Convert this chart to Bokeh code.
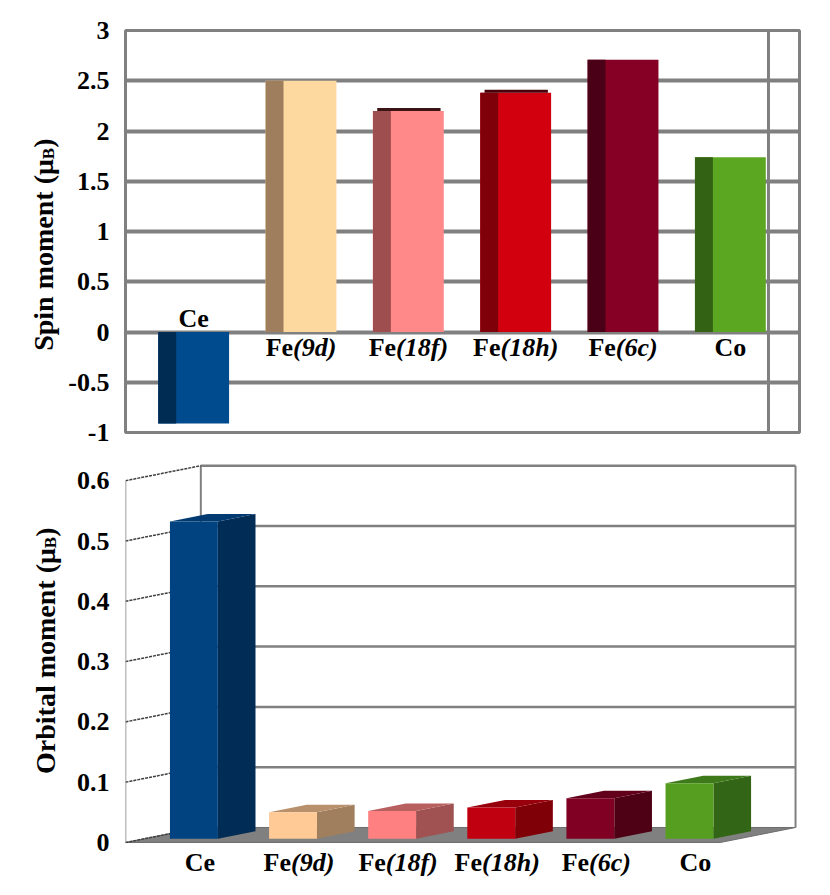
import numpy as np
from bokeh.plotting import figure
from bokeh.models import FixedTicker, Span
from bokeh.layouts import column, row
from bokeh.core.properties import value
from bokeh.embed import file_html
from bokeh.resources import INLINE

# ---------------- data ----------------
sites = ["Ce", "Fe(9d)", "Fe(18f)", "Fe(18h)", "Fe(6c)", "Co"]
label_main = ["Ce", "Fe", "Fe", "Fe", "Fe", "Co"]
label_ital = ["", "(9d)", "(18f)", "(18h)", "(6c)", ""]
spin = [-0.91, 2.50, 2.20, 2.38, 2.71, 1.74]
orbital = [0.526, 0.044, 0.046, 0.052, 0.067, 0.092]

spin_ticks = [-1, -0.5, 0, 0.5, 1, 1.5, 2, 2.5, 3]
spin_tick_labels = ["-1", "-0.5", "0", "0.5", "1", "1.5", "2", "2.5", "3"]
orb_ticks = [0, 0.1, 0.2, 0.3, 0.4, 0.5, 0.6]
orb_tick_labels = ["0", "0.1", "0.2", "0.3", "0.4", "0.5", "0.6"]

spin_title = "Spin moment (\u03bc"
orb_title = "Orbital moment (\u03bc"
title_sub = "B"
title_end = ")"

spin_face = ["#004B8D", "#FDD9A0", "#FF8888", "#D2000F", "#860025", "#5BA722"]
spin_side = ["#002B52", "#9E7E5C", "#9E4E4E", "#80000A", "#4A0016", "#346214"]
spin_cap = [None, None, "#3B1515", "#4A0008", None, None]   # visible dark top faces
orb_face = ["#004380", "#FFCA95", "#FF8080", "#C00010", "#7F0022", "#559E20"]
orb_side = ["#002C55", "#A07F5E", "#A05252", "#800008", "#4E0015", "#336517"]
orb_top = ["#003A70", "#B8916C", "#B85F5F", "#98000C", "#62001B", "#3F7A1A"]

FONT = "Liberation Serif"
GRID = "#808080"

# Times/Liberation Serif metrics (per 1000 em) for placing mixed-style text
BOLD_W = {"C": 722, "e": 444, "o": 500, "F": 611, "S": 556, "p": 556, "i": 278,
          "n": 556, " ": 250, "m": 833, "t": 333, "(": 333, ")": 333,
          "\u03bc": 556, "O": 778, "r": 444, "b": 556, "a": 500, "l": 278, "B": 667}
BI_W = {"(": 333, ")": 333, "1": 500, "6": 500, "8": 500, "9": 500,
        "d": 500, "f": 333, "h": 556, "c": 444}


def tw(s, table, size):
    return sum(table[c] for c in s) * size / 1000.0


LBL_SIZE = 26
idx = np.arange(len(sites), dtype=float)
w_main = np.array([tw(s, BOLD_W, LBL_SIZE) for s in label_main])
w_ital = np.array([tw(s, BI_W, LBL_SIZE) for s in label_ital])
split_off = -(w_main + w_ital) / 2.0 + w_main


def add_labels(p, xs, ys):
    p.text(x=xs, y=ys, text=label_main, x_offset=split_off,
           text_align="right", text_baseline="middle",
           text_font=value(FONT), text_font_style="bold",
           text_font_size=f"{LBL_SIZE}px", text_color="black")
    p.text(x=xs, y=ys, text=label_ital, x_offset=split_off,
           text_align="left", text_baseline="middle",
           text_font=value(FONT), text_font_style="bold italic",
           text_font_size=f"{LBL_SIZE}px", text_color="black")


def style_yaxis(p, ticks, labels):
    p.yaxis.ticker = FixedTicker(ticks=ticks)
    p.yaxis.major_label_overrides = {t: l for t, l in zip(ticks, labels)}
    p.yaxis.axis_line_color = None
    p.yaxis.major_tick_line_color = None
    p.yaxis.minor_tick_line_color = None
    p.yaxis.major_tick_out = 0
    p.yaxis.major_tick_in = 0
    p.yaxis.major_label_standoff = 16
    p.yaxis.major_label_text_font = FONT
    p.yaxis.major_label_text_font_style = "bold"
    p.yaxis.major_label_text_font_size = "26px"
    p.yaxis.major_label_text_color = "black"


TOTAL_W = 812
TITLE_W = 62
TOP_H = 455
BOT_H = 435
TOTAL_H = TOP_H + BOT_H

# ---------------- axis-title strip (left) ----------------
pt = figure(width=TITLE_W, height=TOTAL_H, x_range=(0, TITLE_W), y_range=(0, TOTAL_H),
            output_backend="svg", toolbar_location=None,
            min_border_left=0, min_border_right=0, min_border_top=0, min_border_bottom=0)
pt.axis.visible = False
pt.grid.visible = False
pt.outline_line_color = None
pt.border_fill_color = "white"
pt.background_fill_color = "white"


def add_title(main, x_base, y_end, size=28, sub=17):
    # anchored at the top end of the (rotated) title, pieces right-aligned
    wE = tw(title_end, BOLD_W, size)
    wB = tw(title_sub, BOLD_W, sub)
    kw = dict(angle=np.pi / 2, text_font=value(FONT), text_font_style="bold",
              text_color="black", text_align="right", text_baseline="alphabetic")
    pt.text(x=[x_base], y=[y_end], text=[title_end], text_font_size=f"{size}px", **kw)
    pt.text(x=[x_base + 5], y=[y_end - wE], text=[title_sub], text_font_size=f"{sub}px", **kw)
    pt.text(x=[x_base], y=[y_end - wE - wB], text=[main], text_font_size=f"{size}px", **kw)


# positions in page pixels (y measured from the page bottom)
add_title(spin_title, 43, TOTAL_H - 138)
add_title(orb_title, 45, TOTAL_H - 527)

# ---------------- top: spin moment ----------------
W = TOTAL_W - TITLE_W
p1 = figure(width=W, height=TOP_H, x_range=(-0.635, 5.644), y_range=(-1, 3),
            output_backend="svg", toolbar_location=None,
            min_border_left=124 - TITLE_W, min_border_right=TOTAL_W - 799,
            min_border_top=30, min_border_bottom=TOP_H - 432)
p1.xaxis.visible = False
p1.xgrid.visible = False
p1.ygrid.ticker = FixedTicker(ticks=spin_ticks)
p1.ygrid.grid_line_color = GRID
p1.ygrid.grid_line_width = 4
p1.outline_line_color = GRID
p1.outline_line_width = 3
p1.background_fill_color = "white"
p1.border_fill_color = "white"
style_yaxis(p1, spin_ticks, spin_tick_labels)

p1.add_layout(Span(location=5.355, dimension="height", line_color=GRID, line_width=3))

BW1, STRIP, CAP = 0.66, 0.167, 0.03
spin_arr = np.array(spin)
p1.quad(left=idx - BW1 / 2, right=idx + BW1 / 2, bottom=0, top=spin_arr,
        fill_color=spin_face, line_color=None)
p1.quad(left=idx - BW1 / 2, right=idx - BW1 / 2 + STRIP, bottom=0, top=spin_arr,
        fill_color=spin_side, line_color=None)
has_cap = np.array([c is not None for c in spin_cap])
p1.quad(left=(idx - BW1 / 2 + 0.04)[has_cap], right=(idx + BW1 / 2 - 0.03)[has_cap],
        bottom=spin_arr[has_cap], top=spin_arr[has_cap] + CAP,
        fill_color=[c for c in spin_cap if c is not None], line_color=None)
add_labels(p1, idx, np.where(spin_arr < 0, 0.134, -0.154))

# ---------------- bottom: orbital moment ----------------
p2 = figure(width=W, height=BOT_H, x_range=(-0.5, 6.30), y_range=(-0.0630, 0.6302),
            output_backend="svg", toolbar_location=None,
            min_border_left=125 - TITLE_W, min_border_right=W - (125 - TITLE_W) - 676,
            min_border_top=7, min_border_bottom=BOT_H - 7 - 418)
p2.xaxis.visible = False
p2.xgrid.visible = False
p2.ygrid.visible = False
p2.outline_line_color = None
p2.background_fill_color = "white"
p2.border_fill_color = "white"
style_yaxis(p2, orb_ticks, orb_tick_labels)

DX, DY = 0.76, 0.0249          # depth of the 3-D box (data units)
x_lo, x_hi = -0.5, len(sites) - 0.5
top_v = orb_ticks[-1]

# floor
p2.patch(x=[x_lo, x_hi, x_hi + DX, x_lo + DX], y=[0, 0, DY, DY],
         fill_color="#808080", line_color="#6E6E6E", line_width=1)
# back wall gridlines + edges
p2.multi_line(xs=[[x_lo + DX, x_hi + DX] for _ in orb_ticks[1:]],
              ys=[[t + DY, t + DY] for t in orb_ticks[1:]],
              line_color=GRID, line_width=2.5)
p2.multi_line(xs=[[x_lo + DX, x_lo + DX], [x_hi + DX, x_hi + DX]],
              ys=[[DY, top_v + DY], [DY, top_v + DY]],
              line_color=GRID, line_width=2)
# left side wall: slanted tick lines and front axis
p2.multi_line(xs=[[x_lo, x_lo + DX] for _ in orb_ticks],
              ys=[[t, t + DY] for t in orb_ticks],
              line_color="#404040", line_width=1.5, line_dash="3 1")
p2.line(x=[x_lo, x_lo], y=[0, top_v], line_color=GRID, line_width=1.5)

# 3-D bars
BW2, D0, D1 = 0.483, 0.25, 0.75
orb = np.array(orbital)
xl = idx + D0 * DX - BW2 / 2
xr = idx + D0 * DX + BW2 / 2
sh = (D1 - D0) * DX
y0 = D0 * DY
y1 = D1 * DY
side_xs = [[r, r + sh, r + sh, r] for r in xr]
side_ys = [[y0, y1, v + y1, v + y0] for v in orb]
top_xs = [[l, r, r + sh, l + sh] for l, r in zip(xl, xr)]
top_ys = [[v + y0, v + y0, v + y1, v + y1] for v in orb]
p2.patches(xs=side_xs, ys=side_ys, fill_color=orb_side, line_color=None)
p2.patches(xs=top_xs, ys=top_ys, fill_color=orb_top, line_color=None)
p2.quad(left=xl, right=xr, bottom=y0, top=orb + y0, fill_color=orb_face, line_color=None)

add_labels(p2, idx + 0.25, np.full(len(sites), -0.033))

layout = row(pt, column(p1, p2, spacing=0), spacing=0)
open("out.html", "w").write(file_html(layout, INLINE))
